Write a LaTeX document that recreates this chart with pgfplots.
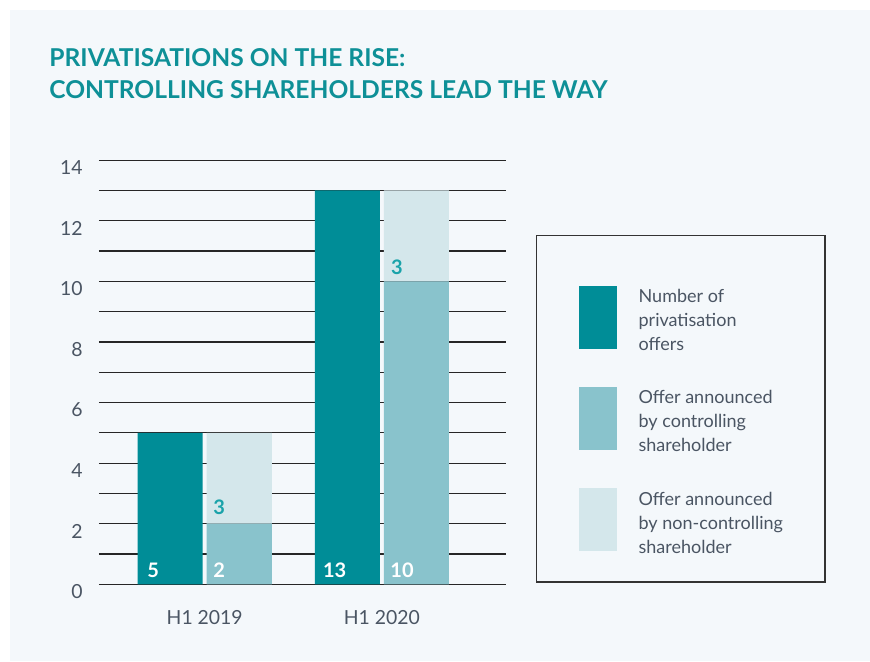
\documentclass[border=0pt]{standalone}
\usepackage{fontspec}
\setmainfont{Lato}
\usepackage{pgfplots}
\pgfplotsset{compat=1.18}

\definecolor{panel}{HTML}{F4F8FB}
\definecolor{tealA}{HTML}{008D97}
\definecolor{tealB}{HTML}{89C3CC}
\definecolor{tealC}{HTML}{D4E7EB}
\definecolor{titlec}{HTML}{0E9097}
\definecolor{txt}{HTML}{4A5563}
\definecolor{lbl}{HTML}{1AA3AA}

\tikzset{vallbl/.style={anchor=base west, inner sep=0pt, font=\fontsize{10}{12}\selectfont\bfseries}}
\pgfplotsset{
  swatch/.style={legend image code/.code={
      \fill[##1] (0pt,-13.5pt) rectangle (19pt,18pt);
      \path (0pt,30pt);}},
  common/.style={
    at={(0,0)}, anchor=south west, scale only axis,
    width=203.25pt, height=212.1pt,
    xmin=-0.5967, xmax=1.698, ymin=0, ymax=14,
    bar width=0.367,
  },
}

\begin{document}
\begin{tikzpicture}[x=1pt,y=1pt]
\fill[white] (-49.5,-38.35) rectangle (385.5,292.15);
\fill[panel] (-44.5,-38.35) rectangle (385.5,287.15);
\node[anchor=base west, inner sep=0pt, text=titlec,
      font=\fontsize{12.3}{16}\selectfont\bfseries] at (-25,259.15) {PRIVATISATIONS ON THE RISE:};
\node[anchor=base west, inner sep=0pt, text=titlec,
      font=\fontsize{12.3}{16}\selectfont\bfseries] at (-25,243.15) {CONTROLLING SHAREHOLDERS LEAD THE WAY};

% main axis: grid, ticks, total bars, legend
\begin{axis}[common,
  ybar,
  axis line style={draw=none},
  major tick length=0pt, minor tick length=0pt,
  xtick={0,1}, xticklabels={H1 2019, H1 2020},
  ytick={0,2,...,14}, minor ytick={1,3,...,13},
  ymajorgrids, yminorgrids,
  major grid style={black!85, line width=0.6pt},
  minor grid style={black!85, line width=0.6pt},
  /pgf/number format/assume math mode=true,
  tick label style={font=\fontsize{9.7}{12}\selectfont, text=txt},
  yticklabel style={anchor=base east, inner sep=0pt, xshift=-8pt, yshift=-7.2pt},
  xticklabel style={anchor=base, inner sep=0pt, yshift=-19.85pt},
  legend style={at={(1.075,0.8234)}, anchor=north west,
    draw=black!80, line width=0.6pt, fill=none,
    inner xsep=21pt, inner ysep=13pt,
    font=\fontsize{9}{12}\selectfont, text=txt,
    nodes={inner sep=0pt}, cells={align=left},
    column sep=11pt, row sep=4.5pt},
  legend cell align=left,
]
\addplot[fill=tealA, draw=none, bar shift=-0.195, swatch] coordinates {(0,5) (1,13)};
\addlegendentry{Number of\\privatisation\\offers}
\addlegendimage{fill=tealB, draw=none, swatch}
\addlegendentry{Offer announced\\by controlling\\shareholder}
\addlegendimage{fill=tealC, draw=none, swatch}
\addlegendentry{Offer announced\\by non-controlling\\shareholder}
\end{axis}

% stacked split of the offers
\begin{axis}[common,
  ybar stacked, bar shift=0.195,
  hide axis,
]
\addplot[fill=tealB, draw=none] coordinates {(0,2) (1,10)};
\addplot[fill=tealC, draw=none] coordinates {(0,3) (1,3)};
\end{axis}

% value labels on top of all bars
\begin{axis}[common, hide axis]
\node[vallbl, text=white] at (axis cs:-0.3257,0.24) {5};
\node[vallbl, text=white] at (axis cs:0.0468,0.24) {2};
\node[vallbl, text=white] at (axis cs:0.666,0.24) {13};
\node[vallbl, text=white] at (axis cs:1.046,0.24) {10};
\node[vallbl, text=lbl] at (axis cs:0.0468,2.32) {3};
\node[vallbl, text=lbl] at (axis cs:1.05,10.23) {3};
\end{axis}
\end{tikzpicture}
\end{document}
